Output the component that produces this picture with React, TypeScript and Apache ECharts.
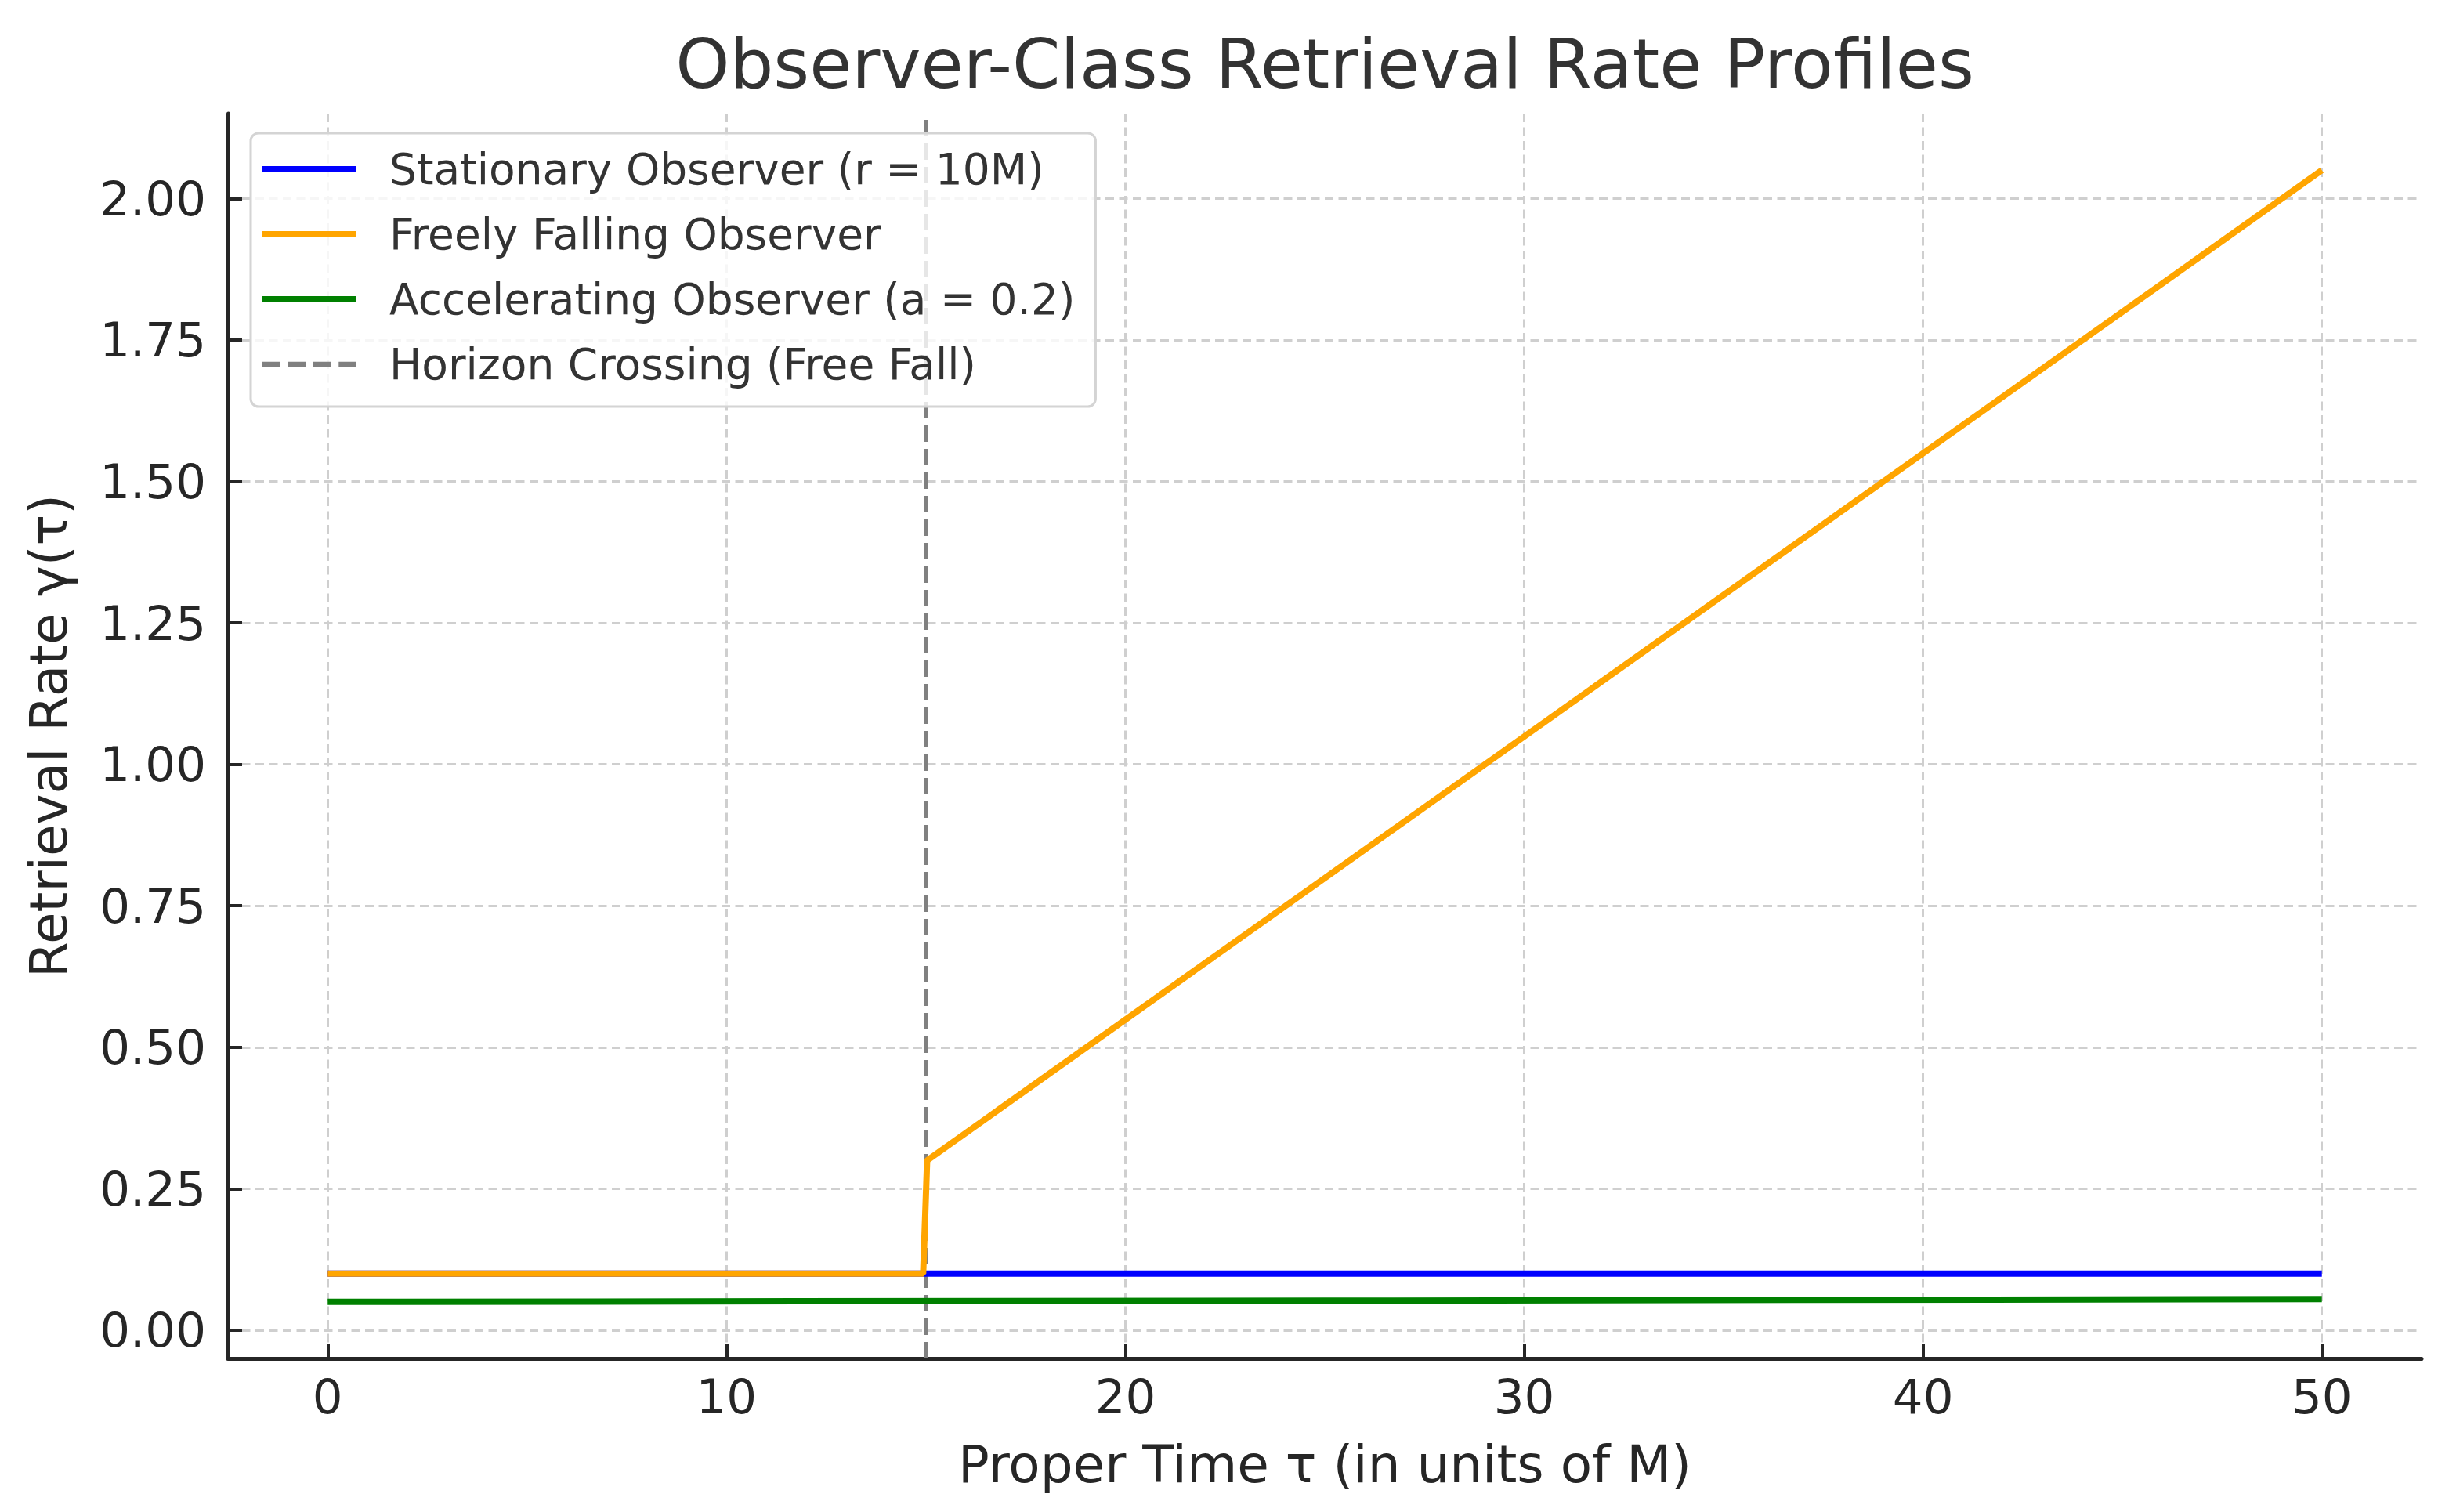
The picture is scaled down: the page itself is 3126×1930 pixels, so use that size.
import { useEffect, useRef } from 'react'
import * as echarts from 'echarts'

const FONT = 'DejaVu Sans'

// 系列名称与颜色
const SERIES_NAMES = [
  'Stationary Observer (r = 10M)',
  'Freely Falling Observer',
  'Accelerating Observer (a = 0.2)',
  'Horizon Crossing (Free Fall)'
]
const SERIES_COLORS = ['#0000ff', '#ffa500', '#008000', '#808080']

// [τ, γ(τ)]
const stationary = [[0, 0.1], [50, 0.1]]
const freeFall = [[0, 0.1], [14.93, 0.1], [15.03, 0.3], [50, 2.05]]
const accelerating = [[0, 0.05], [25, 0.052], [50, 0.055]]
const HORIZON_TAU = 15

// 坐标轴
const X_TICKS = [0, 10, 20, 30, 40, 50]
const Y_TICKS = [0, 0.25, 0.5, 0.75, 1, 1.25, 1.5, 1.75, 2]
const X_RANGE = [-2.5, 52.5]
const Y_RANGE = [-0.05, 2.15]

const INK = '#262626'
const GRID_LINE = { color: '#cfcfcf', width: 3, type: [11, 6.5] as number[] }

// legend handles: a solid bar, and four dashes for the horizon line
const SOLID_ICON = 'rect'
const DASH_ICON = 'path://M0,0h21v6h-21z M30,0h21v6h-21z M60,0h21v6h-21z M90,0h21v6h-21z'

export default function App() {
  const chartRef = useRef<HTMLDivElement>(null)

  useEffect(() => {
    if (!chartRef.current) return
    const chart = echarts.init(chartRef.current, null, { renderer: 'svg' })

    const lineSeries = (name: string, color: string, data: number[][]) => ({
      name,
      type: 'line',
      data,
      showSymbol: false,
      symbol: 'none',
      lineStyle: { color, width: 8 },
      itemStyle: { color }
    })

    const option: any = {
      animation: false,
      backgroundColor: '#ffffff',
      title: {
        text: 'Observer-Class Retrieval Rate Profiles',
        left: 1691,
        top: 37,
        padding: 0,
        textAlign: 'center',
        textStyle: { fontFamily: FONT, fontSize: 88, lineHeight: 88, fontWeight: 'normal', color: '#333333' }
      },
      grid: { left: 291, right: 35, top: 145, bottom: 196, containLabel: false },
      legend: {
        orient: 'vertical',
        left: 320,
        top: 170,
        z: 10,
        padding: [18, 26, 26, 15],
        itemWidth: 120,
        itemHeight: 8,
        itemGap: 27,
        backgroundColor: 'rgba(255,255,255,0.8)',
        borderColor: '#d4d4d4',
        borderWidth: 3,
        borderRadius: 10,
        selectedMode: false,
        data: SERIES_NAMES.map((name, i) => ({ name, icon: i === 3 ? DASH_ICON : SOLID_ICON })),
        textStyle: { fontFamily: FONT, fontSize: 55, lineHeight: 56, color: '#333333', padding: [0, 0, 0, 37] }
      },
      xAxis: {
        type: 'value',
        min: X_RANGE[0],
        max: X_RANGE[1],
        name: 'Proper Time τ (in units of M)',
        nameLocation: 'middle',
        nameGap: 102,
        nameTextStyle: { fontFamily: FONT, fontSize: 66, lineHeight: 67, color: INK },
        axisLine: { show: true, onZero: false, lineStyle: { color: INK, width: 5 } },
        axisTick: { show: true, inside: true, length: 18, customValues: X_TICKS, lineStyle: { color: INK, width: 4 } },
        axisLabel: {
          customValues: X_TICKS,
          margin: 18,
          fontFamily: FONT,
          fontSize: 61,
          lineHeight: 61,
          color: INK,
          formatter: (v: number) => String(v)
        },
        splitLine: { show: true, lineStyle: GRID_LINE }
      },
      yAxis: {
        type: 'value',
        min: Y_RANGE[0],
        max: Y_RANGE[1],
        name: 'Retrieval Rate γ(τ)',
        nameLocation: 'middle',
        nameGap: 195,
        nameTextStyle: { fontFamily: FONT, fontSize: 66, lineHeight: 67, color: INK },
        axisLine: { show: true, onZero: false, lineStyle: { color: INK, width: 5 } },
        axisTick: { show: true, inside: true, length: 18, customValues: Y_TICKS, lineStyle: { color: INK, width: 4 } },
        axisLabel: {
          customValues: Y_TICKS,
          margin: 28,
          fontFamily: FONT,
          fontSize: 61,
          lineHeight: 61,
          color: INK,
          formatter: (v: number) => v.toFixed(2)
        },
        splitLine: { show: true, lineStyle: GRID_LINE }
      },
      series: [
        lineSeries(SERIES_NAMES[0], SERIES_COLORS[0], stationary),
        lineSeries(SERIES_NAMES[1], SERIES_COLORS[1], freeFall),
        lineSeries(SERIES_NAMES[2], SERIES_COLORS[2], accelerating),
        {
          name: SERIES_NAMES[3],
          type: 'line',
          data: [],
          symbol: 'none',
          lineStyle: { color: SERIES_COLORS[3], width: 6, type: [21, 9] },
          itemStyle: { color: SERIES_COLORS[3] },
          markLine: {
            silent: true,
            z: 3,
            symbol: ['none', 'none'],
            label: { show: false },
            lineStyle: { color: SERIES_COLORS[3], width: 6, type: [21, 9] },
            data: [{ xAxis: HORIZON_TAU }]
          }
        }
      ]
    }

    chart.setOption(option)

    return () => {
      chart.dispose()
    }
  }, [])

  return (
    <div
      ref={chartRef}
      style={{ position: 'absolute', left: 0, top: 0, width: 3126, height: 1930 }}
    />
  )
}
